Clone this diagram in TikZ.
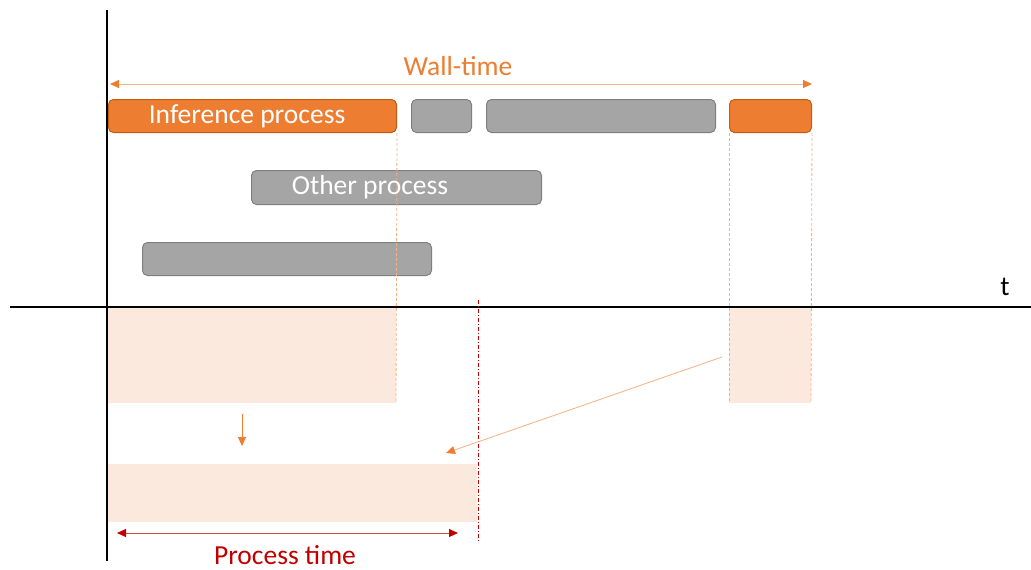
\documentclass[tikz,border=0pt]{standalone}
\usepackage{fontspec}
\setmainfont{Carlito}
\usetikzlibrary{arrows.meta}
\definecolor{accent}{HTML}{ED7D31}
\definecolor{accentdark}{HTML}{C55A11}
\definecolor{accentline}{HTML}{F4B183}
\definecolor{shade}{HTML}{FBE9DD}
\definecolor{barfill}{HTML}{A5A5A5}
\definecolor{barline}{HTML}{7F7F7F}
\definecolor{darkred}{HTML}{C00000}
\tikzset{
  bar/.style={rounded corners=5pt, line width=1pt, inner sep=0pt, anchor=north west},
  busy/.style={bar, fill=barfill, draw=barline},
  infer/.style={bar, fill=accent, draw=accentdark},
  bartext/.style={text=white, inner sep=0pt, font=\fontsize{27.5}{30}\selectfont},
  big/.style={inner sep=0pt, font=\fontsize{27.5}{30}\selectfont},
  slot/.style={fill=shade, draw=none, inner sep=0pt, anchor=north west},
  guide/.style={accentline, line width=0.8pt, dash pattern=on 3pt off 2pt},
  axis/.style={black, line width=1.6pt},
  pointer/.style={accent, line width=0.8pt, -{Triangle[length=9pt,width=8pt]}},
}
\begin{document}
\begin{tikzpicture}[x=1pt, y=-1pt]
\useasboundingbox (0,0) rectangle (1031,570);

% shaded intervals below the time axis
\node[slot, minimum width=288pt, minimum height=96pt] (s1) at (108,307) {};
\node[slot, minimum width=82pt, minimum height=96pt] (s2) at (729,307) {};
\node[slot, minimum width=369pt, minimum height=58pt] (sum) at (108,464) {};

% axes
\coordinate (ytop) at (107,10);
\coordinate (ybot) at (107,561);
\coordinate (xl) at (10,307);
\coordinate (xr) at (1031,307);
\draw[axis] (ytop) -- (ybot);
\draw[axis] (xl) -- (xr);
\node[big] (t) at (1005,287) {t};

% process bars
\node[infer, minimum width=288pt, minimum height=33pt] (inf1) at (108,99) {};
\node[busy, minimum width=60pt, minimum height=33pt] (g1) at (411,99) {};
\node[busy, minimum width=229pt, minimum height=33pt] (g2) at (486,99) {};
\node[infer, minimum width=82pt, minimum height=33pt] (inf2) at (729,99) {};
\node[busy, minimum width=290pt, minimum height=34pt] (other) at (251,170) {};
\node[busy, minimum width=289pt, minimum height=33pt] (g3) at (142,242) {};
\node[bartext] (inf1txt) at (247,116) {Inference process};
\node[bartext] (othertxt) at (370,187) {Other process};

% guides dropping from the inference bars
\coordinate (d1) at (396,403);
\coordinate (d2) at (729,403);
\coordinate (d3) at (811,403);
\draw[guide] (inf1.south east) -- (d1);
\draw[guide] (inf2.south west) -- (d2);
\draw[guide] (inf2.south east) -- (d3);

% end of the summed process time
\coordinate (e1) at (478,300);
\coordinate (e2) at (478,543);
\draw[darkred, line width=0.5pt, dash pattern=on 4pt off 2pt on 1pt off 2pt] (e1) -- (e2);

% wall-time span
\coordinate (w1) at (110,84);
\coordinate (w2) at (812,84);
\draw[accentline, line width=1pt,
      {Triangle[length=9pt,width=8pt,fill=accent,color=accent]}-{Triangle[length=9pt,width=8pt,fill=accent,color=accent]}]
      (w1) -- (w2);
\node[big, accent] (wl) at (458,66) {Wall-time};

% moves of the inference intervals into the sum
\coordinate (a1) at (242,414);
\coordinate (a2) at (242,446);
\draw[pointer] (a1) -- (a2);
\coordinate (b1) at (722,357);
\coordinate (b2) at (446,453);
\draw[accentline, line width=0.8pt, -{Triangle[length=9pt,width=8pt,fill=accent,color=accent]}] (b1) -- (b2);

% process time span
\coordinate (p1) at (117,533);
\coordinate (p2) at (458,533);
\draw[darkred!70, line width=1pt,
      {Triangle[length=9pt,width=8pt,fill=darkred,color=darkred]}-{Triangle[length=9pt,width=8pt,fill=darkred,color=darkred]}]
      (p1) -- (p2);
\node[big, darkred] (pl) at (285,555) {Process time};
\end{tikzpicture}
\end{document}
